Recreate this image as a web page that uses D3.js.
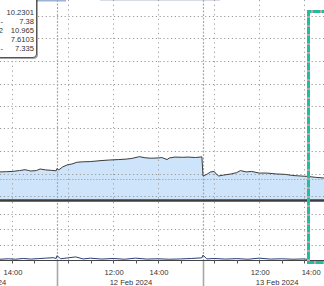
<!DOCTYPE html>
<html>
<head>
<meta charset="utf-8">
<script src="https://cdn.jsdelivr.net/npm/d3@7"></script>
<style>
  html, body { margin: 0; padding: 0; background: #fff; }
  #chart { width: 324px; height: 286px; overflow: hidden; }
  text { font-family: "Liberation Sans", Arial, sans-serif; }
</style>
</head>
<body>
<div id="chart"></div>
<script>
// Trading days shown (only the tail of the first one is visible)
const dayLabels = ["09 Feb 2024", "12 Feb 2024", "13 Feb 2024"];
const sessionOpen = 9.5, sessionClose = 16;

// Upper panel: price line with area fill
const priceTimes = [
  "09 Feb 13:28", "09 Feb 13:45", "09 Feb 14:00", "09 Feb 14:20", "09 Feb 14:35", "09 Feb 14:45",
  "09 Feb 14:50", "09 Feb 15:05", "09 Feb 15:15", "09 Feb 15:30", "09 Feb 15:45", "09 Feb 15:58",
  "12 Feb 09:30", "12 Feb 09:35", "12 Feb 09:45", "12 Feb 10:00", "12 Feb 10:10", "12 Feb 10:23",
  "12 Feb 10:40", "12 Feb 11:00", "12 Feb 11:25", "12 Feb 11:50", "12 Feb 12:15", "12 Feb 12:35",
  "12 Feb 12:50", "12 Feb 13:10", "12 Feb 13:25", "12 Feb 13:40", "12 Feb 14:00", "12 Feb 14:10",
  "12 Feb 14:24", "12 Feb 14:30", "12 Feb 14:45", "12 Feb 15:05", "12 Feb 15:20", "12 Feb 15:40",
  "12 Feb 15:57",
  "13 Feb 09:30", "13 Feb 09:40", "13 Feb 09:50", "13 Feb 10:00", "13 Feb 10:05", "13 Feb 10:12",
  "13 Feb 10:25", "13 Feb 10:45", "13 Feb 11:00", "13 Feb 11:10", "13 Feb 11:25", "13 Feb 11:40",
  "13 Feb 12:00", "13 Feb 12:20", "13 Feb 12:45", "13 Feb 13:10", "13 Feb 13:30", "13 Feb 13:50",
  "13 Feb 14:10", "13 Feb 14:30", "13 Feb 14:53"
];
const priceValues = [
  9.707, 9.708, 9.709, 9.713, 9.717, 9.713,
  9.711, 9.713, 9.720, 9.716, 9.714, 9.712,
  9.722, 9.716, 9.729, 9.740, 9.742, 9.750,
  9.752, 9.753, 9.757, 9.760, 9.762, 9.764,
  9.767, 9.775, 9.770, 9.768, 9.769, 9.771,
  9.762, 9.769, 9.773, 9.772, 9.773, 9.771,
  9.774,
  9.689, 9.696, 9.707, 9.709, 9.698, 9.689,
  9.693, 9.698, 9.704, 9.713, 9.707, 9.709,
  9.702, 9.702, 9.698, 9.696, 9.691, 9.689,
  9.687, 9.683, 9.680
];
const referenceLevel = 9.675;
const upperTicks = [9.6, 9.7, 9.8, 9.9, 10.0, 10.1, 10.2, 10.3, 10.4];

// Lower panel: small activity series
const lowerTimes = [
  "09 Feb 13:28", "09 Feb 13:50", "09 Feb 14:10", "09 Feb 14:30", "09 Feb 14:50", "09 Feb 15:10",
  "09 Feb 15:30", "09 Feb 15:50", "09 Feb 15:58",
  "12 Feb 09:30", "12 Feb 09:40", "12 Feb 10:00", "12 Feb 10:20", "12 Feb 10:40", "12 Feb 11:00",
  "12 Feb 11:30", "12 Feb 12:00", "12 Feb 12:30", "12 Feb 13:00", "12 Feb 13:30", "12 Feb 14:00",
  "12 Feb 14:30", "12 Feb 15:00", "12 Feb 15:30", "12 Feb 15:57",
  "13 Feb 09:30", "13 Feb 09:40", "13 Feb 10:00", "13 Feb 10:30", "13 Feb 11:00", "13 Feb 11:30",
  "13 Feb 12:00", "13 Feb 12:30", "13 Feb 13:00", "13 Feb 13:30", "13 Feb 14:00", "13 Feb 14:10"
];
const lowerValues = [
  0.05, 0.08, 0.05, 0.10, 0.06, 0.09,
  0.12, 0.15, 0.10,
  0.28, 0.08, 0.14, 0.20, 0.07, 0.12,
  0.06, 0.10, 0.05, 0.12, 0.06, 0.08,
  0.05, 0.07, 0.10, 0.14,
  0.32, 0.07, 0.10, 0.06, 0.09, 0.05,
  0.12, 0.06, 0.08, 0.05, 0.07, 0.04
];
const lowerTicks = [1, 2, 3];

// Legend values (labels are cut off at the left edge)
const legendFragments = ["", "-", "2", "", "-"];
const legendValues = ["10.2301", "7.38", "10.965", "7.6103", "7.335"];

// Axis labels and the current-time marker
const labelHours = ["12:00", "14:00"];
const markerTime = "13 Feb 14:10";
const viewStart = "09 Feb 13:28", viewEnd = "13 Feb 14:53";

document.addEventListener('DOMContentLoaded', function() {
  const W = 324, H = 286;
  const upperTop = 16, upperBottom = 200.5, axisY = 260;

  // "09 Feb 13:28" -> continuous trading hours (gaps between sessions removed)
  function tradingTime(s) {
    const parts = s.split(" ");
    const day = dayLabels.findIndex(d => d.startsWith(parts[0] + " " + parts[1]));
    const hm = parts[2].split(":").map(Number);
    return day * (sessionClose - sessionOpen) + (hm[0] + hm[1] / 60 - sessionOpen);
  }
  const sessionLen = sessionClose - sessionOpen;

  const x = d3.scaleLinear()
    .domain([tradingTime(viewStart), tradingTime(viewEnd)])
    .range([0, W]);

  const yUp = d3.scaleLinear().domain([9.58, 10.4]).range([upperBottom, upperTop]);
  const yLow = d3.scaleLinear().domain([0, 4]).range([axisY, 198.7]);

  const svg = d3.select("#chart").append("svg")
    .attr("width", W).attr("height", H)
    .style("display", "block");

  // thin header strip remnant at the very top
  svg.append("rect").attr("x", 30).attr("y", 0).attr("width", 36).attr("height", 1.5).attr("fill", "#9db3d3");
  svg.append("rect").attr("x", 100).attr("y", 0).attr("width", 120).attr("height", 1).attr("fill", "#d8dde5");

  // Area fill + price line
  const priceData = priceTimes.map((t, i) => ({ t: tradingTime(t), v: priceValues[i] }));
  svg.append("path")
    .datum(priceData)
    .attr("fill", "#cde4fa")
    .attr("d", d3.area().x(d => x(d.t)).y0(upperBottom).y1(d => yUp(d.v)));

  // Horizontal gridlines
  const grid = svg.append("g").attr("stroke", "#9a9a9a").attr("stroke-width", 1).attr("stroke-dasharray", "1.2,2.6");
  grid.selectAll("line.hu").data(upperTicks).enter().append("line")
    .attr("x1", 0).attr("x2", W)
    .attr("y1", d => Math.round(yUp(d)) + 0.5).attr("y2", d => Math.round(yUp(d)) + 0.5);
  grid.selectAll("line.hl").data(lowerTicks).enter().append("line")
    .attr("x1", 0).attr("x2", W)
    .attr("y1", d => Math.round(yLow(d)) + 0.5).attr("y2", d => Math.round(yLow(d)) + 0.5);

  // Vertical gridlines on every even hour
  const hourMarks = [];
  dayLabels.forEach((d, di) => {
    for (let h = 10; h < sessionClose; h++) {
      const t = di * sessionLen + (h - sessionOpen);
      if (x(t) >= 0 && x(t) <= W) hourMarks.push({ t, h, di });
    }
  });
  const gridHours = hourMarks.filter(m => m.h % 2 === 0);
  svg.append("g").selectAll("line").data(gridHours).enter().append("line")
    .attr("x1", d => Math.round(x(d.t)) + 0.5).attr("x2", d => Math.round(x(d.t)) + 0.5)
    .attr("y1", 0).attr("y2", axisY)
    .attr("stroke", "#a0a0a0").attr("stroke-dasharray", "1.2,3.5");

  // Session separators
  const separators = d3.range(1, dayLabels.length).map(di => di * sessionLen);
  svg.append("g").selectAll("line").data(separators).enter().append("line")
    .attr("x1", d => Math.round(x(d)) + 0.5).attr("x2", d => Math.round(x(d)) + 0.5)
    .attr("y1", 0).attr("y2", axisY)
    .attr("stroke", "#a8a8a8").attr("stroke-width", 1.2).attr("stroke-dasharray", "2,1.5");
  svg.append("g").selectAll("line").data(separators).enter().append("line")
    .attr("x1", d => Math.round(x(d)) + 0.5).attr("x2", d => Math.round(x(d)) + 0.5)
    .attr("y1", axisY).attr("y2", H)
    .attr("stroke", "#a8a8a8").attr("stroke-width", 1.6);

  // Orange reference level
  svg.append("line")
    .attr("x1", 0).attr("x2", W)
    .attr("y1", Math.round(yUp(referenceLevel)) + 0.5).attr("y2", Math.round(yUp(referenceLevel)) + 0.5)
    .attr("stroke", "#f0a23a").attr("stroke-width", 1).attr("stroke-dasharray", "1.5,1.5");

  // Price line
  svg.append("path")
    .datum(priceData)
    .attr("fill", "none")
    .attr("stroke", "#3c3c3c")
    .attr("stroke-width", 1)
    .attr("d", d3.line().x(d => x(d.t)).y(d => yUp(d.v)));

  // Panel divider (thick dark line)
  svg.append("line")
    .attr("x1", 0).attr("x2", W).attr("y1", upperBottom).attr("y2", upperBottom)
    .attr("stroke", "#3d3d3d").attr("stroke-width", 2.6);

  // Lower panel series
  const lowerData = lowerTimes.map((t, i) => ({ t: tradingTime(t), v: lowerValues[i] }));
  svg.append("path")
    .datum(lowerData)
    .attr("fill", "none")
    .attr("stroke", "#2b3f73")
    .attr("stroke-width", 1)
    .attr("d", d3.line().x(d => x(d.t)).y(d => yLow(d.v)));

  // X axis line + hourly ticks
  svg.append("line")
    .attr("x1", 0).attr("x2", W).attr("y1", axisY + 0.5).attr("y2", axisY + 0.5)
    .attr("stroke", "#444").attr("stroke-width", 1.2);
  svg.append("g").selectAll("line").data(hourMarks).enter().append("line")
    .attr("x1", d => Math.round(x(d.t)) + 0.5).attr("x2", d => Math.round(x(d.t)) + 0.5)
    .attr("y1", axisY).attr("y2", axisY + 3.5)
    .attr("stroke", "#555");

  // Time labels
  const timeLabels = hourMarks.filter(m => labelHours.includes(String(m.h) + ":00"));
  svg.append("g").selectAll("text").data(timeLabels).enter().append("text")
    .attr("x", (d, i) => x(d.t) + (i === timeLabels.length - 1 ? 7 : 1))
    .attr("y", 273)
    .attr("text-anchor", "middle")
    .attr("dominant-baseline", "middle")
    .style("font-size", "7.6px")
    .style("fill", "#333")
    .text(d => d.h + ":00");

  // Date labels centred on each session
  svg.append("g").selectAll("text").data(dayLabels).enter().append("text")
    .attr("x", (d, i) => x(i * sessionLen + sessionLen / 2) + 1)
    .attr("y", 282.5)
    .attr("text-anchor", "middle")
    .attr("dominant-baseline", "middle")
    .style("font-size", "7.6px")
    .style("fill", "#333")
    .text(d => d);

  // Current-time marker bracket
  const mx = Math.round(x(tradingTime(markerTime))) + 0.5;
  const bracket = `M${W + 5},11.5 H${mx} V262.5 H${W + 5}`;
  svg.append("path").attr("d", bracket).attr("fill", "none")
    .attr("stroke", "#c4a3ab").attr("stroke-width", 3);
  svg.append("path").attr("d", bracket).attr("fill", "none")
    .attr("stroke", "#1fbf9d").attr("stroke-width", 3).attr("stroke-dasharray", "7,2");

  // Legend box
  const legend = svg.append("g");
  legend.append("path")
    .attr("d", "M-5,-5 H36.5 V54 Q36.5,57.5 33,57.5 H-5 Z")
    .attr("fill", "#fff")
    .attr("stroke", "#555")
    .attr("stroke-width", 1)
    .style("filter", "drop-shadow(1px 1px 0.6px rgba(0,0,0,0.35))");
  legend.selectAll("text.val").data(legendValues).enter().append("text")
    .attr("class", "val")
    .attr("x", 34)
    .attr("y", (d, i) => 13.3 + i * 9)
    .attr("text-anchor", "end")
    .attr("dominant-baseline", "middle")
    .style("font-size", "7.6px")
    .style("fill", "#333")
    .text(d => d);
  legend.selectAll("text.frag").data(legendFragments).enter().append("text")
    .attr("class", "frag")
    .attr("x", 3)
    .attr("y", (d, i) => 13.3 + i * 9)
    .attr("text-anchor", "end")
    .attr("dominant-baseline", "middle")
    .style("font-size", "7.6px")
    .style("fill", "#333")
    .text(d => d);
});
</script>
</body>
</html>
